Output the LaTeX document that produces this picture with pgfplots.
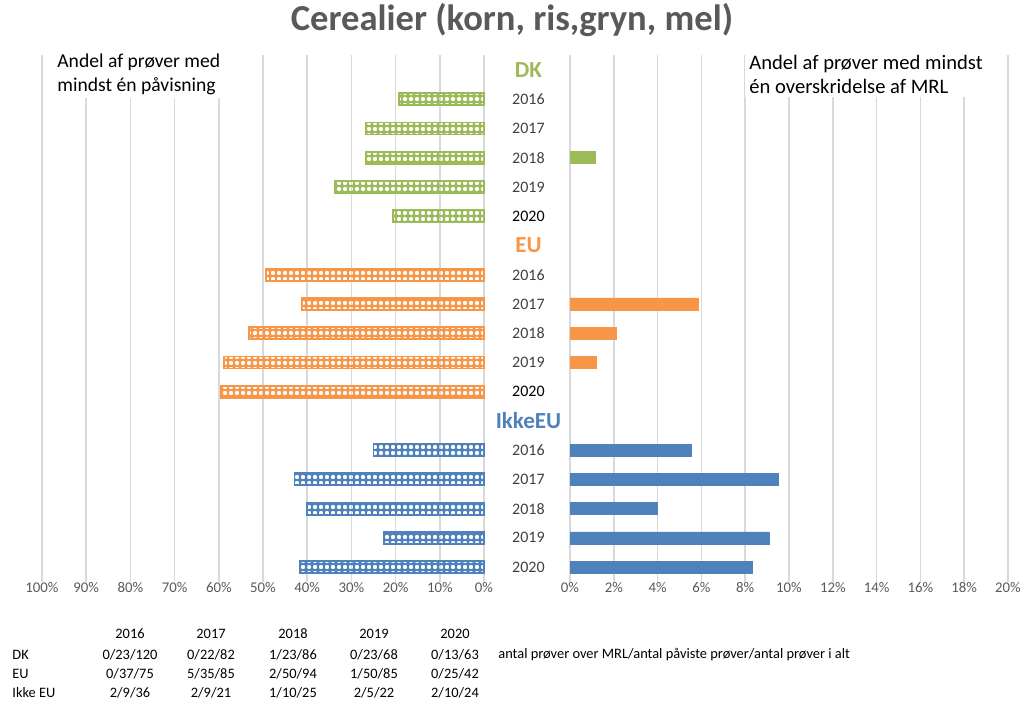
\documentclass[border=0pt]{standalone}
\usepackage{fontspec}
\setmainfont{Carlito}
\usepackage{pgfplots}
\pgfplotsset{compat=1.18}
\usetikzlibrary{patterns}

\definecolor{dkg}{HTML}{9BBB59}
\definecolor{euo}{HTML}{F79646}
\definecolor{ieb}{HTML}{4F81BD}
\definecolor{gridc}{HTML}{D9D9D9}
\definecolor{txt}{HTML}{595959}
\definecolor{lab}{HTML}{404040}

% colored tile with white round holes
\pgfdeclarepatternformonly{cdots}{\pgfpoint{-0.1pt}{-0.1pt}}{\pgfpoint{3.1pt}{3.1pt}}{\pgfpoint{3pt}{3pt}}{
  \pgfseteorule
  \pgfpathrectangle{\pgfpointorigin}{\pgfpoint{3pt}{3pt}}
  \pgfpathcircle{\pgfpoint{1.5pt}{1.5pt}}{1.15pt}
  \pgfusepath{fill}
}

\newcommand\yr[1]{{\color{lab}#1}}
\newcommand\grp[2]{{\color{#1}\bfseries\fontsize{11.5}{12}\selectfont #2}}

\pgfplotsset{
  halfaxis/.style={
    scale only axis, height=263.15pt, anchor=south west,
    ymin=-0.5, ymax=17.5, y dir=reverse,
    xbar, bar width=6pt, bar shift=0pt,
    xmajorgrids, grid style={gridc, line width=0.75pt},
    axis line style={draw=none}, major tick style={draw=none},
    /pgf/number format/assume math mode=true,
    xticklabel={\pgfmathprintnumber{\tick}\%},
    xticklabel style={font=\fontsize{7.4}{8}\selectfont, text=txt, yshift=3pt},
    clip=false,
  },
  hatched/.style={pattern=cdots, pattern color=#1, draw=#1, line width=0.9pt},
  solid/.style={fill=#1, draw=#1, line width=0.3pt},
}

\begin{document}
\begin{tikzpicture}

% left: share of samples with at least one detection
\begin{axis}[halfaxis, at={(21pt,60.15pt)}, width=221pt,
  xmin=0, xmax=100, x dir=reverse, xtick={0,10,...,100}, ytick=\empty]
\addplot[hatched=dkg] coordinates {(19.17,1) (26.83,2) (26.74,3) (33.82,4) (20.63,5)};
\addplot[hatched=euo] coordinates {(49.33,7) (41.18,8) (53.19,9) (58.82,10) (59.52,11)};
\addplot[hatched=ieb] coordinates {(25.00,13) (42.86,14) (40.00,15) (22.73,16) (41.67,17)};
\end{axis}

% right: share of samples exceeding MRL
\begin{axis}[halfaxis, at={(285pt,60.15pt)}, width=219pt,
  xmin=0, xmax=20, xtick={0,2,...,20},
  ytick={0,...,17},
  yticklabels={\grp{dkg}{DK},\yr{2016},\yr{2017},\yr{2018},\yr{2019},{\color{black}2020},
               \grp{euo}{EU},\yr{2016},\yr{2017},\yr{2018},\yr{2019},{\color{black}2020},
               \grp{ieb}{IkkeEU},\yr{2016},\yr{2017},\yr{2018},\yr{2019},\yr{2020}},
  yticklabel style={anchor=center, xshift=-16.5pt, font=\fontsize{8}{9}\selectfont}]
\addplot[solid=dkg] coordinates {(1.16,3)};
\addplot[solid=euo] coordinates {(5.88,8) (2.13,9) (1.18,10)};
\addplot[solid=ieb] coordinates {(5.56,13) (9.52,14) (4.00,15) (9.09,16) (8.33,17)};
\end{axis}

\begin{scope}[x=0.5pt,y=-0.5pt,yshift=351pt]
  \node[font=\bfseries\fontsize{18.3}{20}\selectfont, text=txt] at (512,20) {Cerealier (korn, ris,gryn, mel)};
  \node[anchor=west, fill=white, inner sep=2pt, align=left, font=\fontsize{9.8}{12}\selectfont]
    at (53,74) {Andel af prøver med\\mindst én påvisning};
  \node[anchor=west, fill=white, inner sep=2pt, align=left, font=\fontsize{10.3}{12}\selectfont]
    at (745,74) {Andel af prøver med mindst\\én overskridelse af MRL};
  \begin{scope}[font=\fontsize{7.2}{8}\selectfont]
    \foreach \x/\t in {130/2016,211/2017,293/2018,374/2019,455/2020}
      \node at (\x,634) {\t};
    \node[anchor=west, inner sep=0pt] at (12,655) {DK};
    \node[anchor=west, inner sep=0pt] at (12,674) {EU};
    \node[anchor=west, inner sep=0pt] at (12,693) {Ikke EU};
    \foreach \x/\t in {130/0\slash 23\slash 120,211/0\slash 22\slash 82,293/1\slash 23\slash 86,374/0\slash 23\slash 68,455/0\slash 13\slash 63}
      \node at (\x,655) {\t};
    \foreach \x/\t in {130/0\slash 37\slash 75,211/5\slash 35\slash 85,293/2\slash 50\slash 94,374/1\slash 50\slash 85,455/0\slash 25\slash 42}
      \node at (\x,674) {\t};
    \foreach \x/\t in {130/2\slash 9\slash 36,211/2\slash 9\slash 21,293/1\slash 10\slash 25,374/2\slash 5\slash 22,455/2\slash 10\slash 24}
      \node at (\x,693) {\t};
    \node[anchor=west, inner sep=0pt] at (498,655) {antal prøver over MRL/antal påviste prøver/antal prøver i alt};
  \end{scope}
  \pgfresetboundingbox
  \path[use as bounding box] (0,0) rectangle (1025,702);
\end{scope}
\end{tikzpicture}
\end{document}
